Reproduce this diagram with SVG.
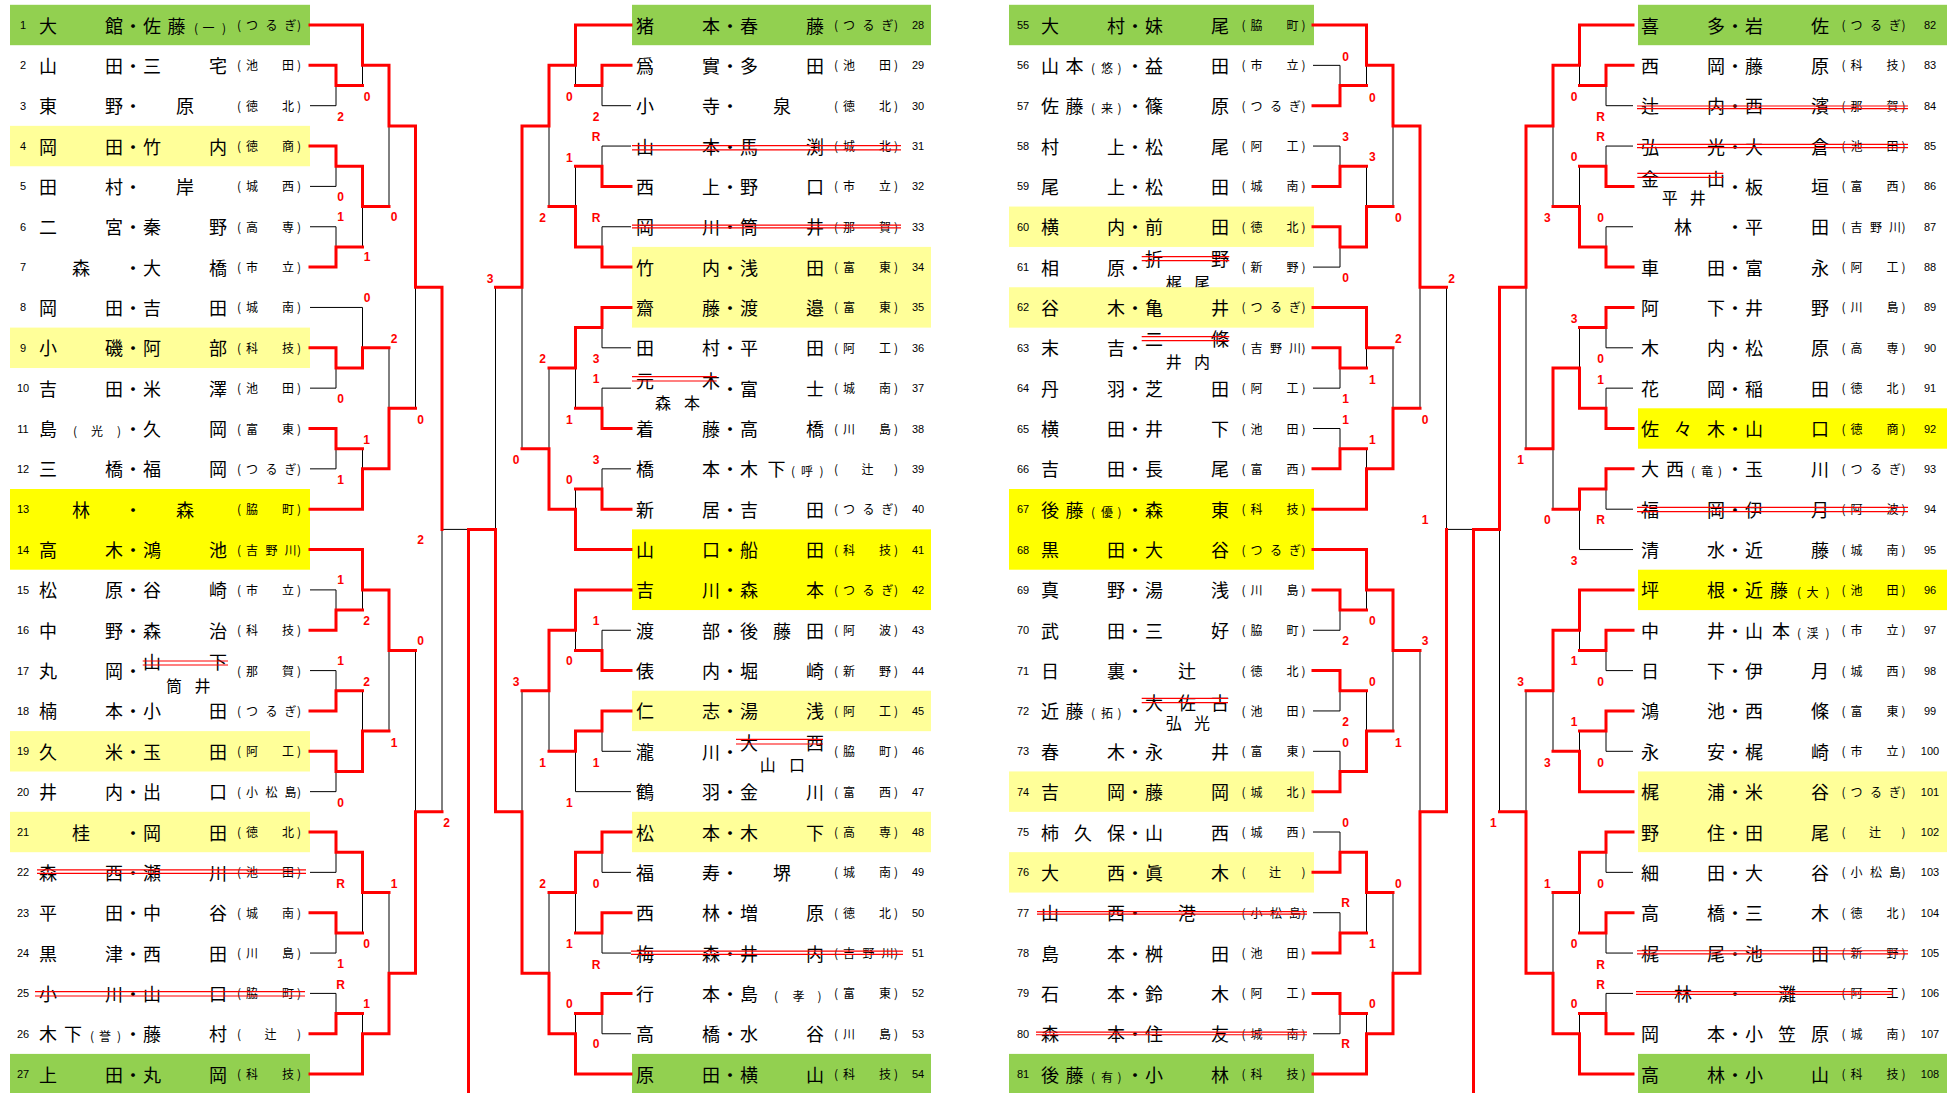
<svg xmlns="http://www.w3.org/2000/svg" width="1959" height="1093" viewBox="0 0 1959 1093">
<style>
.n{font-family:"Noto Sans CJK JP","Noto Sans CJK SC",sans-serif;font-size:18px;fill:#000}
.sm{font-size:12px}
.sr{font-size:16px}
.s{font-family:"Noto Sans CJK JP","Noto Sans CJK SC",sans-serif;font-size:12px;fill:#000}
.no{font-family:"Liberation Sans",Arial,sans-serif;font-size:11px;fill:#000;text-anchor:middle}
.lb{font-family:"Liberation Sans",Arial,sans-serif;font-size:12px;font-weight:bold;fill:#f00;text-anchor:middle}
.r{stroke:#f00;stroke-width:3;fill:none;stroke-linecap:square;stroke-linejoin:miter}
.k{stroke:#000;stroke-width:1;fill:none}
.st{stroke:#f00;stroke-width:1.2;fill:none}
.g{fill:#92D050}.ly{fill:#FFFF99}.by{fill:#FFFF00}
</style>
<rect width="1959" height="1093" fill="#fff"/>
<g id="colA" transform="translate(39,0)">
<g id="p1" transform="translate(0,25)"><rect class="g" x="-29" y="-20.2" width="300" height="40.4"/><text class="no" x="-16" y="4">1</text><text class="n" y="7.5"><tspan x="0 66 85 104 128.5">大館・佐藤</tspan><tspan class="sm" x="155 163.5 183">(一)</tspan></text><text class="s" x="198 207 226.5 245.5 258" y="5">(つるぎ)</text></g>
<g id="p2" transform="translate(0,65.35)"><text class="no" x="-16" y="4">2</text><text class="n" x="0 66 85 104 170" y="7.5">山田・三宅</text><text class="s" x="198 207 243 258" y="5">(池田)</text></g>
<g id="p3" transform="translate(0,105.7)"><text class="no" x="-16" y="4">3</text><text class="n" x="0 66 85 137" y="7.5">東野・原</text><text class="s" x="198 207 243 258" y="5">(徳北)</text></g>
<g id="p4" transform="translate(0,146.05)"><rect class="ly" x="-29" y="-20.2" width="300" height="40.4"/><text class="no" x="-16" y="4">4</text><text class="n" x="0 66 85 104 170" y="7.5">岡田・竹内</text><text class="s" x="198 207 243 258" y="5">(徳商)</text></g>
<g id="p5" transform="translate(0,186.4)"><text class="no" x="-16" y="4">5</text><text class="n" x="0 66 85 137" y="7.5">田村・岸</text><text class="s" x="198 207 243 258" y="5">(城西)</text></g>
<g id="p6" transform="translate(0,226.75)"><text class="no" x="-16" y="4">6</text><text class="n" x="0 66 85 104 170" y="7.5">二宮・秦野</text><text class="s" x="198 207 243 258" y="5">(高専)</text></g>
<g id="p7" transform="translate(0,267.1)"><text class="no" x="-16" y="4">7</text><text class="n" x="33 85 104 170" y="7.5">森・大橋</text><text class="s" x="198 207 243 258" y="5">(市立)</text></g>
<g id="p8" transform="translate(0,307.45)"><text class="no" x="-16" y="4">8</text><text class="n" x="0 66 85 104 170" y="7.5">岡田・吉田</text><text class="s" x="198 207 243 258" y="5">(城南)</text></g>
<g id="p9" transform="translate(0,347.8)"><rect class="ly" x="-29" y="-20.2" width="300" height="40.4"/><text class="no" x="-16" y="4">9</text><text class="n" x="0 66 85 104 170" y="7.5">小磯・阿部</text><text class="s" x="198 207 243 258" y="5">(科技)</text></g>
<g id="p10" transform="translate(0,388.15)"><text class="no" x="-16" y="4">10</text><text class="n" x="0 66 85 104 170" y="7.5">吉田・米澤</text><text class="s" x="198 207 243 258" y="5">(池田)</text></g>
<g id="p11" transform="translate(0,428.5)"><text class="no" x="-16" y="4">11</text><text class="n" y="7.5"><tspan x="0">島</tspan><tspan class="sm" x="34 52 78">(光)</tspan><tspan x="85 104 170">・久岡</tspan></text><text class="s" x="198 207 243 258" y="5">(富東)</text></g>
<g id="p12" transform="translate(0,468.85)"><text class="no" x="-16" y="4">12</text><text class="n" x="0 66 85 104 170" y="7.5">三橋・福岡</text><text class="s" x="198 207 226.5 245.5 258" y="5">(つるぎ)</text></g>
<g id="p13" transform="translate(0,509.2)"><rect class="by" x="-29" y="-20.2" width="300" height="80.7"/><text class="no" x="-16" y="4">13</text><text class="n" x="33 85 137" y="7.5">林・森</text><text class="s" x="198 207 243 258" y="5">(脇町)</text></g>
<g id="p14" transform="translate(0,549.55)"><text class="no" x="-16" y="4">14</text><text class="n" x="0 66 85 104 170" y="7.5">高木・鴻池</text><text class="s" x="198 207 226.5 245.5 258" y="5">(吉野川)</text></g>
<g id="p15" transform="translate(0,589.9)"><text class="no" x="-16" y="4">15</text><text class="n" x="0 66 85 104 170" y="7.5">松原・谷崎</text><text class="s" x="198 207 243 258" y="5">(市立)</text></g>
<g id="p16" transform="translate(0,630.25)"><text class="no" x="-16" y="4">16</text><text class="n" x="0 66 85 104 170" y="7.5">中野・森治</text><text class="s" x="198 207 243 258" y="5">(科技)</text></g>
<g id="p17" transform="translate(0,670.6)"><text class="no" x="-16" y="4">17</text><text class="n" x="0 66 85" y="7.5">丸岡・</text><text class="n" x="104 170" y="-1.5">山下</text><path class="st" d="M103.7 -9.6H189M103.7 -5.6H189"/><text class="n sr" x="127 155.5" y="21.5">筒井</text><text class="s" x="198 207 243 258" y="5">(那賀)</text></g>
<g id="p18" transform="translate(0,710.95)"><text class="no" x="-16" y="4">18</text><text class="n" x="0 66 85 104 170" y="7.5">楠本・小田</text><text class="s" x="198 207 226.5 245.5 258" y="5">(つるぎ)</text></g>
<g id="p19" transform="translate(0,751.3)"><rect class="ly" x="-29" y="-20.2" width="300" height="40.4"/><text class="no" x="-16" y="4">19</text><text class="n" x="0 66 85 104 170" y="7.5">久米・玉田</text><text class="s" x="198 207 243 258" y="5">(阿工)</text></g>
<g id="p20" transform="translate(0,791.65)"><text class="no" x="-16" y="4">20</text><text class="n" x="0 66 85 104 170" y="7.5">井内・出口</text><text class="s" x="198 207 226.5 245.5 258" y="5">(小松島)</text></g>
<g id="p21" transform="translate(0,832)"><rect class="ly" x="-29" y="-20.2" width="300" height="40.4"/><text class="no" x="-16" y="4">21</text><text class="n" x="33 85 104 170" y="7.5">桂・岡田</text><text class="s" x="198 207 243 258" y="5">(徳北)</text></g>
<g id="p22" transform="translate(0,872.35)"><text class="no" x="-16" y="4">22</text><text class="n" x="0 66 85 104 170" y="7.5">森西・瀬川</text><text class="s" x="198 207 243 258" y="5">(池田)</text><path class="st" d="M-2 -2.5H267M-2 1H267"/></g>
<g id="p23" transform="translate(0,912.7)"><text class="no" x="-16" y="4">23</text><text class="n" x="0 66 85 104 170" y="7.5">平田・中谷</text><text class="s" x="198 207 243 258" y="5">(城南)</text></g>
<g id="p24" transform="translate(0,953.05)"><text class="no" x="-16" y="4">24</text><text class="n" x="0 66 85 104 170" y="7.5">黒津・西田</text><text class="s" x="198 207 243 258" y="5">(川島)</text></g>
<g id="p25" transform="translate(0,993.4)"><text class="no" x="-16" y="4">25</text><text class="n" x="0 66 85 104 170" y="7.5">小川・山口</text><text class="s" x="198 207 243 258" y="5">(脇町)</text><path class="st" d="M-4 -1.7H266M-4 2.6H266"/></g>
<g id="p26" transform="translate(0,1033.75)"><text class="no" x="-16" y="4">26</text><text class="n" y="7.5"><tspan x="0 25">木下</tspan><tspan class="sm" x="51 60 78">(誉)</tspan><tspan x="85 104 170">・藤村</tspan></text><text class="s" x="198 225.5 258" y="5">(辻)</text></g>
<g id="p27" transform="translate(0,1074.1)"><rect class="g" x="-29" y="-20.2" width="300" height="40.4"/><text class="no" x="-16" y="4">27</text><text class="n" x="0 66 85 104 170" y="7.5">上田・丸岡</text><text class="s" x="198 207 243 258" y="5">(科技)</text></g>
</g>
<g id="colB" transform="translate(636,0)">
<g id="p28" transform="translate(0,25)"><rect class="g" x="-4" y="-20.2" width="299" height="40.4"/><text class="no" x="282" y="4">28</text><text class="n" x="0 66 85 104 170" y="7.5">猪本・春藤</text><text class="s" x="198 207 226.5 245.5 258" y="5">(つるぎ)</text></g>
<g id="p29" transform="translate(0,65.35)"><text class="no" x="282" y="4">29</text><text class="n" x="0 66 85 104 170" y="7.5">爲實・多田</text><text class="s" x="198 207 243 258" y="5">(池田)</text></g>
<g id="p30" transform="translate(0,105.7)"><text class="no" x="282" y="4">30</text><text class="n" x="0 66 85 137" y="7.5">小寺・泉</text><text class="s" x="198 207 243 258" y="5">(徳北)</text></g>
<g id="p31" transform="translate(0,146.05)"><text class="no" x="282" y="4">31</text><text class="n" x="0 66 85 104 170" y="7.5">山本・馬渕</text><text class="s" x="198 207 243 258" y="5">(城北)</text><path class="st" d="M-4 -0.4H265M-4 3.9H265"/></g>
<g id="p32" transform="translate(0,186.4)"><text class="no" x="282" y="4">32</text><text class="n" x="0 66 85 104 170" y="7.5">西上・野口</text><text class="s" x="198 207 243 258" y="5">(市立)</text></g>
<g id="p33" transform="translate(0,226.75)"><text class="no" x="282" y="4">33</text><text class="n" x="0 66 85 104 170" y="7.5">岡川・筒井</text><text class="s" x="198 207 243 258" y="5">(那賀)</text><path class="st" d="M-4 -1.7H265M-4 1.2H265"/></g>
<g id="p34" transform="translate(0,267.1)"><rect class="ly" x="-4" y="-20.2" width="299" height="80.7"/><text class="no" x="282" y="4">34</text><text class="n" x="0 66 85 104 170" y="7.5">竹内・浅田</text><text class="s" x="198 207 243 258" y="5">(富東)</text></g>
<g id="p35" transform="translate(0,307.45)"><text class="no" x="282" y="4">35</text><text class="n" x="0 66 85 104 170" y="7.5">齋藤・渡邉</text><text class="s" x="198 207 243 258" y="5">(富東)</text></g>
<g id="p36" transform="translate(0,347.8)"><text class="no" x="282" y="4">36</text><text class="n" x="0 66 85 104 170" y="7.5">田村・平田</text><text class="s" x="198 207 243 258" y="5">(阿工)</text></g>
<g id="p37" transform="translate(0,388.15)"><text class="no" x="282" y="4">37</text><text class="n" x="0 66" y="-0.65">元木</text><path class="st" d="M-4 -11.45H80.7M-4 -7.15H80.7"/><text class="n sr" x="19 48" y="20.65">森本</text><text class="n" x="85 104 170" y="7.5">・富士</text><text class="s" x="198 207 243 258" y="5">(城南)</text></g>
<g id="p38" transform="translate(0,428.5)"><text class="no" x="282" y="4">38</text><text class="n" x="0 66 85 104 170" y="7.5">着藤・高橋</text><text class="s" x="198 207 243 258" y="5">(川島)</text></g>
<g id="p39" transform="translate(0,468.85)"><text class="no" x="282" y="4">39</text><text class="n" y="7.5"><tspan x="0 66 85 104 131.5">橋本・木下</tspan><tspan class="sm" x="155 165 183.5">(呼)</tspan></text><text class="s" x="198 225.5 258" y="5">(辻)</text></g>
<g id="p40" transform="translate(0,509.2)"><text class="no" x="282" y="4">40</text><text class="n" x="0 66 85 104 170" y="7.5">新居・吉田</text><text class="s" x="198 207 226.5 245.5 258" y="5">(つるぎ)</text></g>
<g id="p41" transform="translate(0,549.55)"><rect class="by" x="-4" y="-20.2" width="299" height="80.7"/><text class="no" x="282" y="4">41</text><text class="n" x="0 66 85 104 170" y="7.5">山口・船田</text><text class="s" x="198 207 243 258" y="5">(科技)</text></g>
<g id="p42" transform="translate(0,589.9)"><text class="no" x="282" y="4">42</text><text class="n" x="0 66 85 104 170" y="7.5">吉川・森本</text><text class="s" x="198 207 226.5 245.5 258" y="5">(つるぎ)</text></g>
<g id="p43" transform="translate(0,630.25)"><text class="no" x="282" y="4">43</text><text class="n" x="0 66 85 104 137 170" y="7.5">渡部・後藤田</text><text class="s" x="198 207 243 258" y="5">(阿波)</text></g>
<g id="p44" transform="translate(0,670.6)"><text class="no" x="282" y="4">44</text><text class="n" x="0 66 85 104 170" y="7.5">俵内・堀崎</text><text class="s" x="198 207 243 258" y="5">(新野)</text></g>
<g id="p45" transform="translate(0,710.95)"><rect class="ly" x="-4" y="-20.2" width="299" height="40.4"/><text class="no" x="282" y="4">45</text><text class="n" x="0 66 85 104 170" y="7.5">仁志・湯浅</text><text class="s" x="198 207 243 258" y="5">(阿工)</text></g>
<g id="p46" transform="translate(0,751.3)"><text class="no" x="282" y="4">46</text><text class="n" x="0 66 85" y="7.5">瀧川・</text><text class="n" x="104 170" y="-1.1">大西</text><path class="st" d="M100 -12H187M100 -7.3H187"/><text class="n sr" x="123.7 153" y="19.8">山口</text><text class="s" x="198 207 243 258" y="5">(脇町)</text></g>
<g id="p47" transform="translate(0,791.65)"><text class="no" x="282" y="4">47</text><text class="n" x="0 66 85 104 170" y="7.5">鶴羽・金川</text><text class="s" x="198 207 243 258" y="5">(富西)</text></g>
<g id="p48" transform="translate(0,832)"><rect class="ly" x="-4" y="-20.2" width="299" height="40.4"/><text class="no" x="282" y="4">48</text><text class="n" x="0 66 85 104 170" y="7.5">松本・木下</text><text class="s" x="198 207 243 258" y="5">(高専)</text></g>
<g id="p49" transform="translate(0,872.35)"><text class="no" x="282" y="4">49</text><text class="n" x="0 66 85 137" y="7.5">福寿・堺</text><text class="s" x="198 207 243 258" y="5">(城南)</text></g>
<g id="p50" transform="translate(0,912.7)"><text class="no" x="282" y="4">50</text><text class="n" x="0 66 85 104 170" y="7.5">西林・増原</text><text class="s" x="198 207 243 258" y="5">(徳北)</text></g>
<g id="p51" transform="translate(0,953.05)"><text class="no" x="282" y="4">51</text><text class="n" x="0 66 85 104 170" y="7.5">梅森・井内</text><text class="s" x="198 207 226.5 245.5 258" y="5">(吉野川)</text><path class="st" d="M-5 -2H267M-5 1.3H267"/></g>
<g id="p52" transform="translate(0,993.4)"><text class="no" x="282" y="4">52</text><text class="n" y="7.5"><tspan x="0 66 85 104">行本・島</tspan><tspan class="sm" x="138 156.5 181.5">(孝)</tspan></text><text class="s" x="198 207 243 258" y="5">(富東)</text></g>
<g id="p53" transform="translate(0,1033.75)"><text class="no" x="282" y="4">53</text><text class="n" x="0 66 85 104 170" y="7.5">高橋・水谷</text><text class="s" x="198 207 243 258" y="5">(川島)</text></g>
<g id="p54" transform="translate(0,1074.1)"><rect class="g" x="-4" y="-20.2" width="299" height="40.4"/><text class="no" x="282" y="4">54</text><text class="n" x="0 66 85 104 170" y="7.5">原田・横山</text><text class="s" x="198 207 243 258" y="5">(科技)</text></g>
</g>
<g id="colC" transform="translate(1041,0)">
<g id="p55" transform="translate(0,25)"><rect class="g" x="-32" y="-20.2" width="305" height="40.4"/><text class="no" x="-18" y="4">55</text><text class="n" x="0 66 85 104 170" y="7.5">大村・妹尾</text><text class="s" x="200.5 209.5 245.5 260.5" y="5">(脇町)</text></g>
<g id="p56" transform="translate(0,65.35)"><text class="no" x="-18" y="4">56</text><text class="n" y="7.5"><tspan x="0 24.5">山本</tspan><tspan class="sm" x="50 60 76.5">(悠)</tspan><tspan x="85 104 170">・益田</tspan></text><text class="s" x="200.5 209.5 245.5 260.5" y="5">(市立)</text></g>
<g id="p57" transform="translate(0,105.7)"><text class="no" x="-18" y="4">57</text><text class="n" y="7.5"><tspan x="0 24.5">佐藤</tspan><tspan class="sm" x="50 60 76.5">(来)</tspan><tspan x="85 104 170">・篠原</tspan></text><text class="s" x="200.5 209.5 229 248 260.5" y="5">(つるぎ)</text></g>
<g id="p58" transform="translate(0,146.05)"><text class="no" x="-18" y="4">58</text><text class="n" x="0 66 85 104 170" y="7.5">村上・松尾</text><text class="s" x="200.5 209.5 245.5 260.5" y="5">(阿工)</text></g>
<g id="p59" transform="translate(0,186.4)"><text class="no" x="-18" y="4">59</text><text class="n" x="0 66 85 104 170" y="7.5">尾上・松田</text><text class="s" x="200.5 209.5 245.5 260.5" y="5">(城南)</text></g>
<g id="p60" transform="translate(0,226.75)"><rect class="ly" x="-32" y="-20.2" width="305" height="40.4"/><text class="no" x="-18" y="4">60</text><text class="n" x="0 66 85 104 170" y="7.5">横内・前田</text><text class="s" x="200.5 209.5 245.5 260.5" y="5">(徳北)</text></g>
<g id="p61" transform="translate(0,267.1)"><text class="no" x="-18" y="4">61</text><text class="n" x="0 66 85" y="7.5">相原・</text><text class="n" x="104 170" y="-1.3">折野</text><path class="st" d="M100.7 -10.4H188.3M100.7 -6.4H188.3"/><text class="n sr" x="124.7 153" y="21.7">梶尾</text><text class="s" x="200.5 209.5 245.5 260.5" y="5">(新野)</text></g>
<g id="p62" transform="translate(0,307.45)"><rect class="ly" x="-32" y="-20.2" width="305" height="40.4"/><text class="no" x="-18" y="4">62</text><text class="n" x="0 66 85 104 170" y="7.5">谷木・亀井</text><text class="s" x="200.5 209.5 229 248 260.5" y="5">(つるぎ)</text></g>
<g id="p63" transform="translate(0,347.8)"><text class="no" x="-18" y="4">63</text><text class="n" x="0 66 85" y="7.5">末吉・</text><text class="n" x="104 170" y="-2">二條</text><path class="st" d="M100.7 -11.1H188.3M100.7 -7.1H188.3"/><text class="n sr" x="124.7 153" y="20">井内</text><text class="s" x="200.5 209.5 229 248 260.5" y="5">(吉野川)</text></g>
<g id="p64" transform="translate(0,388.15)"><text class="no" x="-18" y="4">64</text><text class="n" x="0 66 85 104 170" y="7.5">丹羽・芝田</text><text class="s" x="200.5 209.5 245.5 260.5" y="5">(阿工)</text></g>
<g id="p65" transform="translate(0,428.5)"><text class="no" x="-18" y="4">65</text><text class="n" x="0 66 85 104 170" y="7.5">横田・井下</text><text class="s" x="200.5 209.5 245.5 260.5" y="5">(池田)</text></g>
<g id="p66" transform="translate(0,468.85)"><text class="no" x="-18" y="4">66</text><text class="n" x="0 66 85 104 170" y="7.5">吉田・長尾</text><text class="s" x="200.5 209.5 245.5 260.5" y="5">(富西)</text></g>
<g id="p67" transform="translate(0,509.2)"><rect class="by" x="-32" y="-20.2" width="305" height="80.7"/><text class="no" x="-18" y="4">67</text><text class="n" y="7.5"><tspan x="0 24.5">後藤</tspan><tspan class="sm" x="50 60 76.5">(優)</tspan><tspan x="85 104 170">・森東</tspan></text><text class="s" x="200.5 209.5 245.5 260.5" y="5">(科技)</text></g>
<g id="p68" transform="translate(0,549.55)"><text class="no" x="-18" y="4">68</text><text class="n" x="0 66 85 104 170" y="7.5">黒田・大谷</text><text class="s" x="200.5 209.5 229 248 260.5" y="5">(つるぎ)</text></g>
<g id="p69" transform="translate(0,589.9)"><text class="no" x="-18" y="4">69</text><text class="n" x="0 66 85 104 170" y="7.5">真野・湯浅</text><text class="s" x="200.5 209.5 245.5 260.5" y="5">(川島)</text></g>
<g id="p70" transform="translate(0,630.25)"><text class="no" x="-18" y="4">70</text><text class="n" x="0 66 85 104 170" y="7.5">武田・三好</text><text class="s" x="200.5 209.5 245.5 260.5" y="5">(脇町)</text></g>
<g id="p71" transform="translate(0,670.6)"><text class="no" x="-18" y="4">71</text><text class="n" x="0 66 85 137" y="7.5">日裏・辻</text><text class="s" x="200.5 209.5 245.5 260.5" y="5">(徳北)</text></g>
<g id="p72" transform="translate(0,710.95)"><text class="no" x="-18" y="4">72</text><text class="n" y="7.5"><tspan x="0 24.5">近藤</tspan><tspan class="sm" x="50 60 76.5">(拓)</tspan><tspan x="85">・</tspan></text><text class="n" x="104 137 170" y="-0.75">大佐古</text><path class="st" d="M100.7 -12.65H187M100.7 -8.25H187"/><text class="n sr" x="124.7 153" y="18.45">弘光</text><text class="s" x="200.5 209.5 245.5 260.5" y="5">(池田)</text></g>
<g id="p73" transform="translate(0,751.3)"><text class="no" x="-18" y="4">73</text><text class="n" x="0 66 85 104 170" y="7.5">春木・永井</text><text class="s" x="200.5 209.5 245.5 260.5" y="5">(富東)</text></g>
<g id="p74" transform="translate(0,791.65)"><rect class="ly" x="-32" y="-20.2" width="305" height="40.4"/><text class="no" x="-18" y="4">74</text><text class="n" x="0 66 85 104 170" y="7.5">吉岡・藤岡</text><text class="s" x="200.5 209.5 245.5 260.5" y="5">(城北)</text></g>
<g id="p75" transform="translate(0,832)"><text class="no" x="-18" y="4">75</text><text class="n" x="0 33 66 85 104 170" y="7.5">柿久保・山西</text><text class="s" x="200.5 209.5 245.5 260.5" y="5">(城西)</text></g>
<g id="p76" transform="translate(0,872.35)"><rect class="ly" x="-32" y="-20.2" width="305" height="40.4"/><text class="no" x="-18" y="4">76</text><text class="n" x="0 66 85 104 170" y="7.5">大西・眞木</text><text class="s" x="200.5 228 260.5" y="5">(辻)</text></g>
<g id="p77" transform="translate(0,912.7)"><text class="no" x="-18" y="4">77</text><text class="n" x="0 66 85 137" y="7.5">山西・港</text><text class="s" x="200.5 209.5 229 248 260.5" y="5">(小松島)</text><path class="st" d="M-4 -1H266M-4 1.5H266"/></g>
<g id="p78" transform="translate(0,953.05)"><text class="no" x="-18" y="4">78</text><text class="n" x="0 66 85 104 170" y="7.5">島本・桝田</text><text class="s" x="200.5 209.5 245.5 260.5" y="5">(池田)</text></g>
<g id="p79" transform="translate(0,993.4)"><text class="no" x="-18" y="4">79</text><text class="n" x="0 66 85 104 170" y="7.5">石本・鈴木</text><text class="s" x="200.5 209.5 245.5 260.5" y="5">(阿工)</text></g>
<g id="p80" transform="translate(0,1033.75)"><text class="no" x="-18" y="4">80</text><text class="n" x="0 66 85 104 170" y="7.5">森本・住友</text><text class="s" x="200.5 209.5 245.5 260.5" y="5">(城南)</text><path class="st" d="M-5 -1.7H266M-5 1H266"/></g>
<g id="p81" transform="translate(0,1074.1)"><rect class="g" x="-32" y="-20.2" width="305" height="40.4"/><text class="no" x="-18" y="4">81</text><text class="n" y="7.5"><tspan x="0 24.5">後藤</tspan><tspan class="sm" x="50 60 76.5">(有)</tspan><tspan x="85 104 170">・小林</tspan></text><text class="s" x="200.5 209.5 245.5 260.5" y="5">(科技)</text></g>
</g>
<g id="colD" transform="translate(1641,0)">
<g id="p82" transform="translate(0,25)"><rect class="g" x="-3" y="-20.2" width="309" height="40.4"/><text class="no" x="289" y="4">82</text><text class="n" x="0 66 85 104 170" y="7.5">喜多・岩佐</text><text class="s" x="200.5 209.5 229 248 260.5" y="5">(つるぎ)</text></g>
<g id="p83" transform="translate(0,65.35)"><text class="no" x="289" y="4">83</text><text class="n" x="0 66 85 104 170" y="7.5">西岡・藤原</text><text class="s" x="200.5 209.5 245.5 260.5" y="5">(科技)</text></g>
<g id="p84" transform="translate(0,105.7)"><text class="no" x="289" y="4">84</text><text class="n" x="0 66 85 104 170" y="7.5">辻内・西濱</text><text class="s" x="200.5 209.5 245.5 260.5" y="5">(那賀)</text><path class="st" d="M-4 0.3H267M-4 3H267"/></g>
<g id="p85" transform="translate(0,146.05)"><text class="no" x="289" y="4">85</text><text class="n" x="0 66 85 104 170" y="7.5">弘光・大倉</text><text class="s" x="200.5 209.5 245.5 260.5" y="5">(池田)</text><path class="st" d="M-4 -1.7H267M-4 1.6H267"/></g>
<g id="p86" transform="translate(0,186.4)"><text class="no" x="289" y="4">86</text><text class="n" x="0 66" y="-0.6">金山</text><path class="st" d="M-3.7 -13.1H82.3M-3.7 -9.1H82.3"/><text class="n sr" x="20.7 48.7" y="18">平井</text><text class="n" x="85 104 170" y="7.5">・板垣</text><text class="s" x="200.5 209.5 245.5 260.5" y="5">(富西)</text></g>
<g id="p87" transform="translate(0,226.75)"><text class="no" x="289" y="4">87</text><text class="n" x="33 85 104 170" y="7.5">林・平田</text><text class="s" x="200.5 209.5 229 248 260.5" y="5">(吉野川)</text></g>
<g id="p88" transform="translate(0,267.1)"><text class="no" x="289" y="4">88</text><text class="n" x="0 66 85 104 170" y="7.5">車田・富永</text><text class="s" x="200.5 209.5 245.5 260.5" y="5">(阿工)</text></g>
<g id="p89" transform="translate(0,307.45)"><text class="no" x="289" y="4">89</text><text class="n" x="0 66 85 104 170" y="7.5">阿下・井野</text><text class="s" x="200.5 209.5 245.5 260.5" y="5">(川島)</text></g>
<g id="p90" transform="translate(0,347.8)"><text class="no" x="289" y="4">90</text><text class="n" x="0 66 85 104 170" y="7.5">木内・松原</text><text class="s" x="200.5 209.5 245.5 260.5" y="5">(高専)</text></g>
<g id="p91" transform="translate(0,388.15)"><text class="no" x="289" y="4">91</text><text class="n" x="0 66 85 104 170" y="7.5">花岡・稲田</text><text class="s" x="200.5 209.5 245.5 260.5" y="5">(徳北)</text></g>
<g id="p92" transform="translate(0,428.5)"><rect class="by" x="-3" y="-20.2" width="309" height="40.4"/><text class="no" x="289" y="4">92</text><text class="n" x="0 33 66 85 104 170" y="7.5">佐々木・山口</text><text class="s" x="200.5 209.5 245.5 260.5" y="5">(徳商)</text></g>
<g id="p93" transform="translate(0,468.85)"><text class="no" x="289" y="4">93</text><text class="n" y="7.5"><tspan x="0 25">大西</tspan><tspan class="sm" x="50 60 77">(竜)</tspan><tspan x="85 104 170">・玉川</tspan></text><text class="s" x="200.5 209.5 229 248 260.5" y="5">(つるぎ)</text></g>
<g id="p94" transform="translate(0,509.2)"><text class="no" x="289" y="4">94</text><text class="n" x="0 66 85 104 170" y="7.5">福岡・伊月</text><text class="s" x="200.5 209.5 245.5 260.5" y="5">(阿波)</text><path class="st" d="M-4 -1.9H267M-4 2.5H267"/></g>
<g id="p95" transform="translate(0,549.55)"><text class="no" x="289" y="4">95</text><text class="n" x="0 66 85 104 170" y="7.5">清水・近藤</text><text class="s" x="200.5 209.5 245.5 260.5" y="5">(城南)</text></g>
<g id="p96" transform="translate(0,589.9)"><rect class="by" x="-3" y="-20.2" width="309" height="40.4"/><text class="no" x="289" y="4">96</text><text class="n" y="7.5"><tspan x="0 66 85 104 129">坪根・近藤</tspan><tspan class="sm" x="156 165.5 184.5">(大)</tspan></text><text class="s" x="200.5 209.5 245.5 260.5" y="5">(池田)</text></g>
<g id="p97" transform="translate(0,630.25)"><text class="no" x="289" y="4">97</text><text class="n" y="7.5"><tspan x="0 66 85 104 131">中井・山本</tspan><tspan class="sm" x="156 165.5 184.5">(渓)</tspan></text><text class="s" x="200.5 209.5 245.5 260.5" y="5">(市立)</text></g>
<g id="p98" transform="translate(0,670.6)"><text class="no" x="289" y="4">98</text><text class="n" x="0 66 85 104 170" y="7.5">日下・伊月</text><text class="s" x="200.5 209.5 245.5 260.5" y="5">(城西)</text></g>
<g id="p99" transform="translate(0,710.95)"><text class="no" x="289" y="4">99</text><text class="n" x="0 66 85 104 170" y="7.5">鴻池・西條</text><text class="s" x="200.5 209.5 245.5 260.5" y="5">(富東)</text></g>
<g id="p100" transform="translate(0,751.3)"><text class="no" x="289" y="4">100</text><text class="n" x="0 66 85 104 170" y="7.5">永安・梶崎</text><text class="s" x="200.5 209.5 245.5 260.5" y="5">(市立)</text></g>
<g id="p101" transform="translate(0,791.65)"><rect class="ly" x="-3" y="-20.2" width="309" height="80.7"/><text class="no" x="289" y="4">101</text><text class="n" x="0 66 85 104 170" y="7.5">梶浦・米谷</text><text class="s" x="200.5 209.5 229 248 260.5" y="5">(つるぎ)</text></g>
<g id="p102" transform="translate(0,832)"><text class="no" x="289" y="4">102</text><text class="n" x="0 66 85 104 170" y="7.5">野住・田尾</text><text class="s" x="200.5 228 260.5" y="5">(辻)</text></g>
<g id="p103" transform="translate(0,872.35)"><text class="no" x="289" y="4">103</text><text class="n" x="0 66 85 104 170" y="7.5">細田・大谷</text><text class="s" x="200.5 209.5 229 248 260.5" y="5">(小松島)</text></g>
<g id="p104" transform="translate(0,912.7)"><text class="no" x="289" y="4">104</text><text class="n" x="0 66 85 104 170" y="7.5">高橋・三木</text><text class="s" x="200.5 209.5 245.5 260.5" y="5">(徳北)</text></g>
<g id="p105" transform="translate(0,953.05)"><text class="no" x="289" y="4">105</text><text class="n" x="0 66 85 104 170" y="7.5">梶尾・池田</text><text class="s" x="200.5 209.5 245.5 260.5" y="5">(新野)</text><path class="st" d="M-4 -2.3H267M-4 0.8H267"/></g>
<g id="p106" transform="translate(0,993.4)"><text class="no" x="289" y="4">106</text><text class="n" x="33 85 137" y="7.5">林・灘</text><text class="s" x="200.5 209.5 245.5 260.5" y="5">(阿工)</text><path class="st" d="M-5 -1.7H252M-5 1H252"/></g>
<g id="p107" transform="translate(0,1033.75)"><text class="no" x="289" y="4">107</text><text class="n" x="0 66 85 104 137 170" y="7.5">岡本・小笠原</text><text class="s" x="200.5 209.5 245.5 260.5" y="5">(城南)</text></g>
<g id="p108" transform="translate(0,1074.1)"><rect class="g" x="-3" y="-20.2" width="309" height="40.4"/><text class="no" x="289" y="4">108</text><text class="n" x="0 66 85 104 170" y="7.5">高林・小山</text><text class="s" x="200.5 209.5 245.5 260.5" y="5">(科技)</text></g>
</g>
<g id="connectors">
<path class="k" d="M310 105.7H336M310 186.4H336M310 226.75H336M310 307.45H362.5M310 388.15H336M310 468.85H336M310 589.9H336M310 670.6H336M310 791.65H336M310 872.35H336M310 953.05H336M310 993.4H336
M336 85.5V105.7M336 166.2V186.4M336 226.75V246.9M336 368V388.15M336 448.7V468.85M336 589.9V610.1M336 670.6V690.8M336 771.5V791.65M336 852.2V872.35M336 932.9V953.05M336 993.4V1013.6
M362.5 65.35V85.5M362.5 206.6V246.9M362.5 307.45V347.8M362.5 448.7V468.85M362.5 589.9V610.1M362.5 690.8V731.1M362.5 892.5V932.9M362.5 1013.6V1033.75
M389 125.9V206.6M389 347.8V408.3M389 650.4V731.1M389 892.5V973.2M415.5 287.3V408.3M415.5 650.4V811.8M442 529.4V811.8M442 529.4H468.5"/>
<path class="k" d="M631 105.7H602M631 146.05H602M631 226.75H602M631 347.8H602M631 388.15H602M631 468.85H602M631 630.25H602M631 751.3H602M631 791.65H575.5M631 872.35H602M631 953.05H602M631 1033.75H602
M602 85.5V105.7M602 146.05V166.2M602 226.75V246.9M602 327.6V347.8M602 388.15V408.3M602 468.85V489M602 630.25V650.4M602 731.1V751.3M602 852.2V872.35M602 932.9V953.05M602 1013.6V1033.75
M575.5 65.35V85.5M575.5 166.2V206.6M575.5 368V408.3M575.5 489V509.2M575.5 630.25V650.4M575.5 751.3V791.65M575.5 892.5V932.9M575.5 1013.6V1033.75
M549 125.9V206.6M549 368V448.7M549 690.8V751.3M549 892.5V973.2M522 287.3V448.7M522 690.8V811.8M495.5 287.3V529.4"/>
<path class="k" d="M1313 65.35H1340M1313 146.05H1340M1313 267.1H1340M1313 388.15H1340M1313 428.5H1340M1313 630.25H1340M1313 710.95H1340M1313 751.3H1340M1313 832H1340M1313 912.7H1340M1313 1033.75H1340
M1340 65.35V85.5M1340 146.05V166.2M1340 246.9V267.1M1340 368V388.15M1340 428.5V448.7M1340 610.1V630.25M1340 690.8V710.95M1340 751.3V771.5M1340 832V852.2M1340 912.7V932.9M1340 1013.6V1033.75
M1366.5 65.35V85.5M1366.5 166.2V206.6M1366.5 347.8V368M1366.5 448.7V468.85M1366.5 589.9V610.1M1366.5 690.8V731.1M1366.5 892.5V932.9M1366.5 1013.6V1033.75
M1393 125.9V206.6M1393 347.8V408.3M1393 650.4V731.1M1393 892.5V973.2M1420 287.3V408.3M1420 650.4V811.8M1446.5 287.3V529.4M1446.5 529.4H1473.5"/>
<path class="k" d="M1633 105.7H1606M1633 146.05H1606M1633 226.75H1606M1633 347.8H1606M1633 388.15H1606M1633 509.2H1606M1633 549.55H1579.5M1633 670.6H1606M1633 751.3H1606M1633 872.35H1606M1633 953.05H1606M1633 993.4H1606
M1606 85.5V105.7M1606 146.05V166.2M1606 226.75V246.9M1606 327.6V347.8M1606 388.15V408.3M1606 489V509.2M1606 650.4V670.6M1606 731.1V751.3M1606 852.2V872.35M1606 932.9V953.05M1606 993.4V1013.6
M1579.5 65.35V85.5M1579.5 166.2V206.6M1579.5 327.6V368M1579.5 509.2V549.55M1579.5 630.25V650.4M1579.5 731.1V751.3M1579.5 892.5V932.9M1579.5 1013.6V1033.75
M1553 125.9V206.6M1553 448.7V509.2M1553 690.8V751.3M1553 892.5V973.2M1526 287.3V448.7M1526 690.8V811.8M1499.5 529.4V811.8"/>
<path class="r" d="M310 25H362.5V65.35H389V125.9H415.5V287.3H442V529.4M310 65.35H336V85.5H362.5M310 146.05H336V166.2H362.5V206.6H389M310 267.1H336V246.9H362.5M310 347.8H336V368H362.5V347.8H389M310 428.5H336V448.7H362.5M310 509.2H362.5V468.85H389V408.3H415.5M310 549.55H362.5V589.9H389V650.4H415.5M310 630.25H336V610.1H362.5M310 710.95H336V690.8H362.5M310 751.3H336V771.5H362.5V731.1H389M310 832H336V852.2H362.5V892.5H389M310 912.7H336V932.9H362.5M310 1033.75H336V1013.6H362.5M310 1074.1H362.5V1033.75H389V973.2H415.5V811.8H442"/>
<path class="r" d="M631 25H575.5V65.35H549V125.9H522V287.3H495.5M631 65.35H602V85.5H575.5M631 186.4H602V166.2H575.5M631 267.1H602V246.9H575.5V206.6H549M631 307.45H602V327.6H575.5V368H549M631 428.5H602V408.3H575.5M631 509.2H602V489H575.5M631 549.55H575.5V509.2H549V448.7H522M631 589.9H575.5V630.25H549V690.8H522M631 670.6H602V650.4H575.5M631 710.95H602V731.1H575.5V751.3H549M631 832H602V852.2H575.5V892.5H549M631 912.7H602V932.9H575.5M631 993.4H602V1013.6H575.5M631 1074.1H575.5V1033.75H549V973.2H522V811.8H495.5V529.4H468.5V1093"/>
<path class="r" d="M1313 25H1366.5V65.35H1393V125.9H1420V287.3H1446.5M1313 105.7H1340V85.5H1366.5M1313 186.4H1340V166.2H1366.5M1313 226.75H1340V246.9H1366.5V206.6H1393M1313 307.45H1366.5V347.8H1393M1313 347.8H1340V368H1366.5M1313 468.85H1340V448.7H1366.5M1313 509.2H1366.5V468.85H1393V408.3H1420M1313 549.55H1366.5V589.9H1393V650.4H1420M1313 589.9H1340V610.1H1366.5M1313 670.6H1340V690.8H1366.5M1313 791.65H1340V771.5H1366.5V731.1H1393M1313 872.35H1340V852.2H1366.5V892.5H1393M1313 953.05H1340V932.9H1366.5M1313 993.4H1340V1013.6H1366.5M1313 1074.1H1366.5V1033.75H1393V973.2H1420V811.8H1446.5V529.4"/>
<path class="r" d="M1633 25H1579.5V65.35H1553V125.9H1526V287.3H1499.5V529.4H1473.5V1093M1633 65.35H1606V85.5H1579.5M1633 186.4H1606V166.2H1579.5M1633 267.1H1606V246.9H1579.5V206.6H1553M1633 307.45H1606V327.6H1579.5M1633 428.5H1606V408.3H1579.5V368H1553V448.7H1526M1633 468.85H1606V489H1579.5V509.2H1553M1633 589.9H1579.5V630.25H1553V690.8H1526M1633 630.25H1606V650.4H1579.5M1633 710.95H1606V731.1H1579.5M1633 791.65H1579.5V751.3H1553M1633 832H1606V852.2H1579.5V892.5H1553M1633 912.7H1606V932.9H1579.5M1633 1033.75H1606V1013.6H1579.5M1633 1074.1H1579.5V1033.75H1553V973.2H1526V811.8H1499.5"/>
</g>
<g id="scores" class="lb">
<text x="340.7" y="121">2</text><text x="367" y="101.3">0</text><text x="340.7" y="201.3">0</text><text x="340.7" y="221.3">1</text><text x="367" y="261.3">1</text><text x="394" y="221.3">0</text><text x="367" y="302">0</text><text x="340.7" y="403.3">0</text><text x="366.7" y="443.6">1</text><text x="340.7" y="484.3">1</text><text x="394" y="342.6">2</text><text x="420.7" y="423.6">0</text><text x="420.7" y="544.3">2</text><text x="340.7" y="584.3">1</text><text x="366.7" y="625">2</text><text x="340.7" y="665.3">1</text><text x="366.7" y="686">2</text><text x="340.7" y="806.6">0</text><text x="394" y="746.6">1</text><text x="420.7" y="645">0</text><text x="446.7" y="826.6">2</text><text x="340.7" y="887.6">R</text><text x="340.7" y="968.3">1</text><text x="366.7" y="947.6">0</text><text x="340.7" y="988.6">R</text><text x="366.7" y="1008.3">1</text><text x="394" y="887.6">1</text>
<text x="596" y="121">2</text><text x="569.3" y="101">0</text><text x="596" y="141">R</text><text x="596" y="221.6">R</text><text x="569.3" y="161.6">1</text><text x="542.7" y="221.6">2</text><text x="490" y="282.6">3</text><text x="596" y="363.3">3</text><text x="542.7" y="363.3">2</text><text x="596" y="383.3">1</text><text x="569.3" y="423.6">1</text><text x="596" y="463.6">3</text><text x="569.3" y="484.3">0</text><text x="516" y="463.6">0</text><text x="596" y="625">1</text><text x="569.3" y="665.3">0</text><text x="516" y="686">3</text><text x="596" y="766.6">1</text><text x="569.3" y="806.6">1</text><text x="542.7" y="766.6">1</text><text x="596" y="887.6">0</text><text x="596" y="968.6">R</text><text x="569.3" y="947.6">1</text><text x="596" y="1048.3">0</text><text x="569.3" y="1008.3">0</text><text x="542.7" y="887.6">2</text>
<text x="1345.7" y="61">0</text><text x="1372.3" y="101.6">0</text><text x="1345.7" y="141">3</text><text x="1345.7" y="282">0</text><text x="1372.3" y="161">3</text><text x="1398.3" y="221.6">0</text><text x="1451.7" y="282.6">2</text><text x="1345.7" y="403.3">1</text><text x="1398.3" y="342.6">2</text><text x="1372.3" y="383.6">1</text><text x="1345.7" y="423.6">1</text><text x="1372.3" y="443.6">1</text><text x="1425" y="423.6">0</text><text x="1425" y="524.3">1</text><text x="1345.7" y="645.3">2</text><text x="1372.3" y="625">0</text><text x="1345.7" y="726">2</text><text x="1372.3" y="686">0</text><text x="1345.7" y="746.6">0</text><text x="1398.3" y="746.6">1</text><text x="1425" y="645.3">3</text><text x="1345.7" y="826.6">0</text><text x="1345.7" y="907">R</text><text x="1372.3" y="947.6">1</text><text x="1345.7" y="1048.3">R</text><text x="1372.3" y="1008.3">0</text><text x="1398.3" y="887.6">0</text>
<text x="1600.7" y="121">R</text><text x="1574" y="101">0</text><text x="1600.7" y="141">R</text><text x="1600.7" y="221.6">0</text><text x="1574" y="161">0</text><text x="1547.3" y="221.6">3</text><text x="1600.7" y="363.3">0</text><text x="1574" y="322.6">3</text><text x="1600.7" y="383.6">1</text><text x="1600.7" y="524.3">R</text><text x="1574" y="565">3</text><text x="1547.3" y="524.3">0</text><text x="1520.7" y="463.6">1</text><text x="1493.3" y="826.6">1</text><text x="1600.7" y="686">0</text><text x="1574" y="665.3">1</text><text x="1600.7" y="766.6">0</text><text x="1574" y="726">1</text><text x="1547.3" y="766.6">3</text><text x="1520.7" y="686">3</text><text x="1600.7" y="887.6">0</text><text x="1600.7" y="968.6">R</text><text x="1574" y="947.6">0</text><text x="1600.7" y="988.6">R</text><text x="1574" y="1008.3">0</text><text x="1547.3" y="887.6">1</text>
</g>
</svg>
